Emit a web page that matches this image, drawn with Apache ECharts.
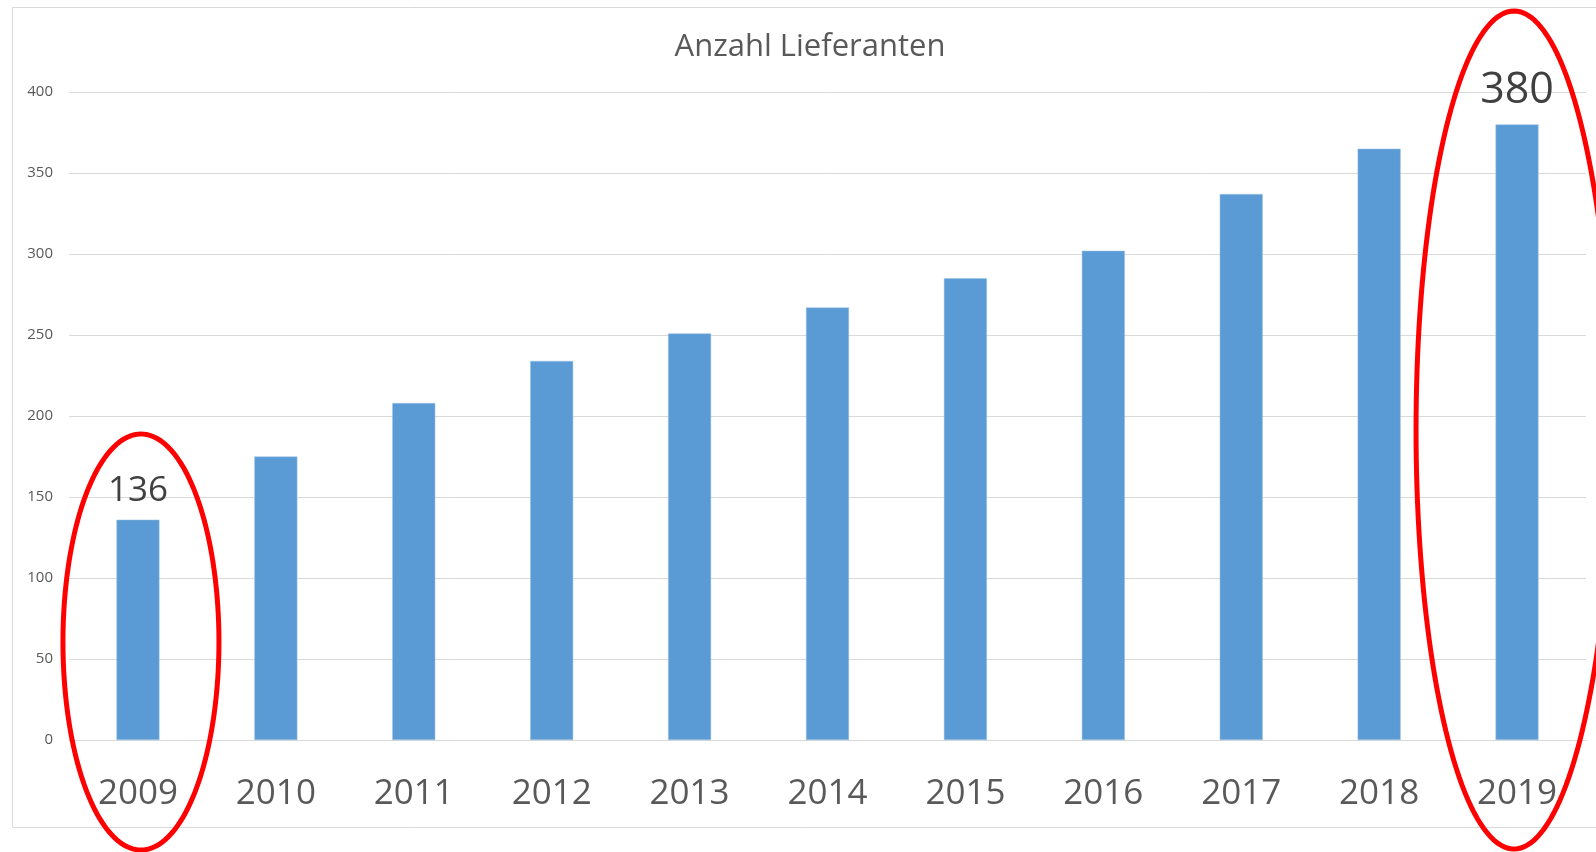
<!DOCTYPE html>
<html>
<head>
<meta charset="utf-8">
<script src="https://cdn.jsdelivr.net/npm/echarts@6/dist/echarts.min.js"></script>
<style>
html,body{margin:0;padding:0;background:#fff;}
#main{width:1596px;height:852px;}
</style>
</head>
<body>
<div id="main"></div>
<script>
const years = ['2009','2010','2011','2012','2013','2014','2015','2016','2017','2018','2019'];
const lieferanten = [136,175,208,234,251,267,285,302,337,365,380];
const yTicks = [0,50,100,150,200,250,300,350,400];
const titleText = 'Anzahl Lieferanten';
const highlighted = {0: 35, 10: 43}; // index -> label font size

const FONT = '"Open Sans", "Noto Sans", sans-serif';

const chart = echarts.init(document.getElementById('main'), null, {renderer: 'canvas'});

function ellipsePoints(cx, cy, rx, ry) {
  const pts = [];
  for (let i = 0; i < 180; i++) {
    const t = i / 180 * Math.PI * 2;
    pts.push([cx + rx * Math.cos(t), cy + ry * Math.sin(t)]);
  }
  return pts;
}

const option = {
  animation: false,
  backgroundColor: '#ffffff',
  grid: {left: 69, right: 10, top: 92, bottom: 112, containLabel: false},
  xAxis: {
    type: 'category',
    data: years,
    axisLine: {show: true, lineStyle: {color: '#d9d9d9', width: 1}},
    axisTick: {show: false},
    axisLabel: {color: '#595959', fontSize: 35, fontFamily: FONT, margin: 37}
  },
  yAxis: {
    type: 'value',
    min: yTicks[0],
    max: yTicks[yTicks.length - 1],
    interval: yTicks[1] - yTicks[0],
    axisLine: {show: false},
    axisTick: {show: false},
    splitLine: {lineStyle: {color: '#d9d9d9', width: 1}},
    axisLabel: {color: '#595959', fontSize: 15, fontFamily: FONT, margin: 16}
  },
  series: [{
    type: 'bar',
    barWidth: 43,
    itemStyle: {color: '#5b9bd5', borderColor: '#9dc3e6', borderWidth: 0.5},
    data: lieferanten.map((v, i) => {
      if (highlighted[i] !== undefined) {
        return {
          value: v,
          label: {
            show: true, position: 'top', distance: highlighted[i] > 40 ? 12 : 11,
            color: '#404040', fontSize: highlighted[i], fontFamily: FONT
          }
        };
      }
      return v;
    })
  }]
};

chart.setOption(option);

// Annotations: frame, title, red ellipses positioned from bar pixels
const p0 = chart.convertToPixel({xAxisIndex: 0, yAxisIndex: 0}, [0, 0]);
const p10 = chart.convertToPixel({xAxisIndex: 0, yAxisIndex: 0}, [10, 0]);

chart.setOption({
  graphic: [
    {type: 'rect', z: -1, silent: true,
     shape: {x: 12.5, y: 7.5, width: 1620, height: 820},
     style: {fill: null, stroke: '#d9d9d9', lineWidth: 1}},
    {type: 'text', x: 810, y: 47,
     style: {text: titleText, fill: '#595959', font: '31px ' + FONT, textAlign: 'center', textVerticalAlign: 'middle'}},
    {type: 'polygon', silent: true, z: 100,
     shape: {points: ellipsePoints(p0[0] + 3, 642, 78, 208)},
     style: {fill: null, stroke: '#ff0000', lineWidth: 5}},
    {type: 'polygon', silent: true, z: 100,
     shape: {points: ellipsePoints(p10[0] - 3, 430, 98, 419)},
     style: {fill: null, stroke: '#ff0000', lineWidth: 5}}
  ]
});
</script>
</body>
</html>
